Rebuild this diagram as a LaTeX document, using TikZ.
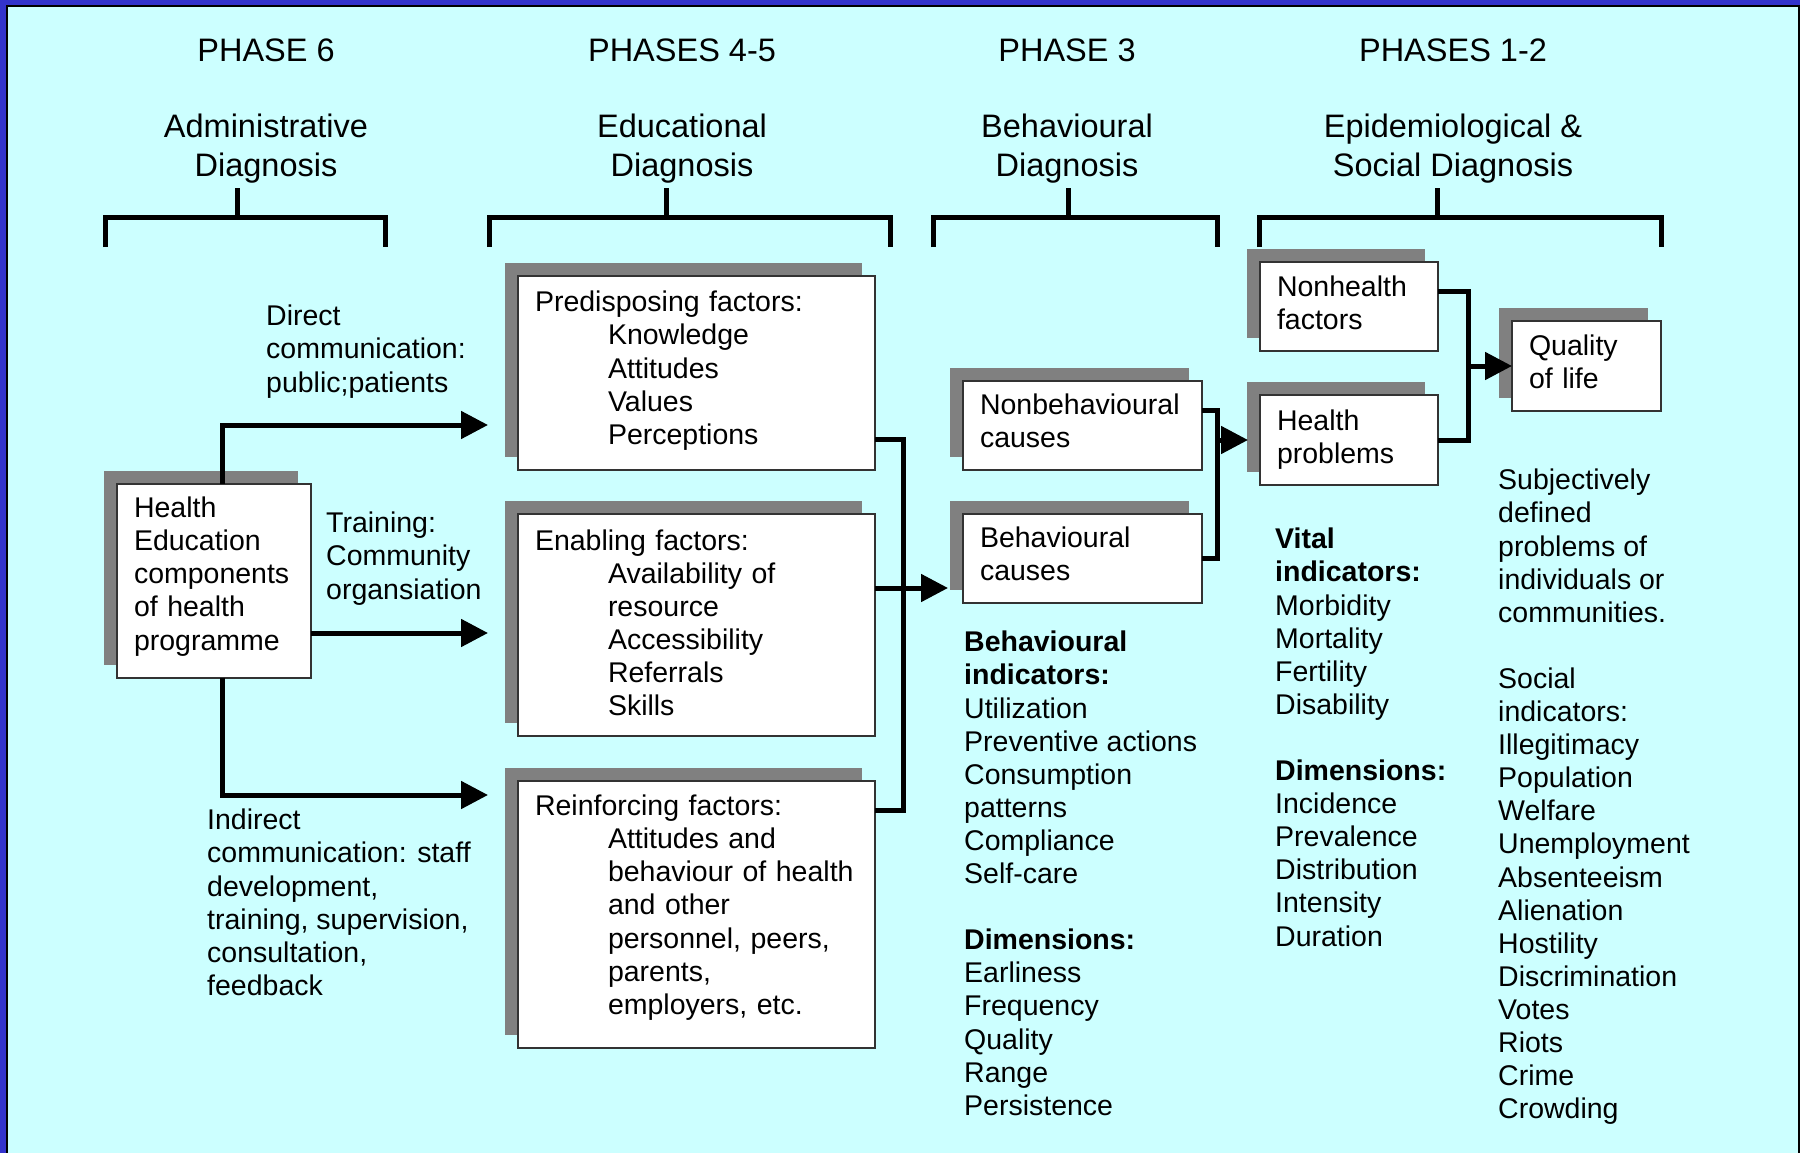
\documentclass[tikz,border=0pt]{standalone}
\usepackage{fontspec}
\setmainfont{Liberation Sans}
\usetikzlibrary{arrows.meta}
\usetikzlibrary{shadows}
\definecolor{panel}{HTML}{CCFFFF}
\definecolor{frame}{HTML}{3333CC}
\newcommand{\factind}{\hspace*{73pt}}
\newcommand{\boxfoot}[1]{\rule[-#1]{0pt}{#1}}
\tikzstyle{phase}=[inner sep=0pt, anchor=north, align=center, font=\fontsize{32.5}{38.8}\selectfont]
\tikzstyle{note}=[inner sep=0pt, anchor=north west, align=left, font=\fontsize{28.5}{33.1}\selectfont]
\tikzstyle{factor}=[draw=black!80, line width=1.3pt, fill=white, anchor=north west,
  inner xsep=17pt, inner ysep=0pt, outer sep=0pt, align=left,
  font=\fontsize{28.5}{33.1}\selectfont,
  drop shadow={shadow xshift=-13pt, shadow yshift=13pt, fill=gray, opacity=1}]
\tikzstyle{bracket}=[line width=5pt]
\tikzstyle{bus}=[line width=5pt]
\tikzstyle{flow}=[line width=5pt, -{Triangle[length=27pt, width=27pt]}]

\begin{document}
\begin{tikzpicture}[x=1pt, y=-1pt]
          \useasboundingbox (0,0) rectangle (1800,1153);
          \fill[frame] (0,0) rectangle (1800,1153);
          \fill[panel] (7,6) rectangle (1799,1153);
          \draw[line width=2pt] (7,1160) -- (7,6) -- (1799,6) -- (1799,1160);

          \node[phase] (ph6) at (266,39) {PHASE 6};
          \node[phase] (ph45) at (682,39) {PHASES 4-5};
          \node[phase] (ph3) at (1067,39) {PHASE 3};
          \node[phase] (ph12) at (1453,39) {PHASES 1-2};
          \node[phase] (adm) at (266,114) {Administrative\\Diagnosis};
          \node[phase] (edu) at (682,114) {Educational\\Diagnosis};
          \node[phase] (beh) at (1067,114) {Behavioural\\Diagnosis};
          \node[phase] (epi) at (1453,114) {Epidemiological \&\\Social Diagnosis};

          \draw[bracket] (105,247) |- (385,217) -- (385,247) (237,217) -- (237,188);
          \draw[bracket] (489,247) |- (890,217) -- (890,247) (666,217) -- (666,188);
          \draw[bracket] (933,247) |- (1217,217) -- (1217,247) (1068,217) -- (1068,188);
          \draw[bracket] (1259,247) |- (1661,217) -- (1661,247) (1437,217) -- (1437,188);

          \node[factor, text width=160pt, minimum height=194pt] (hed) at (117,484)
            {Health\\Education\\components\\of health\\programme\boxfoot{15pt}};
          \node[factor, text width=323pt, minimum height=194pt] (pre) at (518,276)
            {Predisposing factors:\\\factind Knowledge\\\factind Attitudes\\\factind Values\\\factind Perceptions\boxfoot{10.6pt}};
          \node[factor, text width=323pt, minimum height=222pt] (ena) at (518,514)
            {Enabling factors:\\\factind Availability of\\\factind resource\\\factind Accessibility\\\factind Referrals\\\factind Skills\boxfoot{4.6pt}};
          \node[factor, text width=323pt, minimum height=267pt] (rei) at (518,781)
            {Reinforcing factors:\\\factind Attitudes and\\\factind behaviour of health\\\factind and other\\\factind personnel, peers,\\\factind parents,\\\factind employers, etc.\boxfoot{19.8pt}};
          \node[factor, text width=205pt, minimum height=89pt] (nbc) at (963,381) {Nonbehavioural\\causes\boxfoot{9.2pt}};
          \node[factor, text width=205pt, minimum height=89pt] (bc) at (963,514) {Behavioural\\causes\boxfoot{9.2pt}};
          \node[factor, text width=144pt, minimum height=89pt] (nhf) at (1260,262) {Nonhealth\\factors\boxfoot{6.9pt}};
          \node[factor, text width=144pt, minimum height=90pt] (hp) at (1260,395) {Health\\problems};
          \node[factor, text width=115pt, minimum height=90pt] (qol) at (1512,321) {Quality\\of life\boxfoot{9.2pt}};

          \node[note] (direct) at (266,305) {Direct\\communication:\\public;patients};
          \node[note] (train) at (326,512) {Training:\\Community\\organsiation};
          \node[note] (indirect) at (207,809)
            {Indirect\\communication: staff\\development,\\training, supervision,\\consultation,\\feedback};
          \node[note] (behind) at (964,631)
            {\textbf{Behavioural}\\\textbf{indicators:}\\Utilization\\Preventive actions\\Consumption\\patterns\\Compliance\\Self-care\\[33.1pt]\textbf{Dimensions:}\\Earliness\\Frequency\\Quality\\Range\\Persistence};
          \node[note] (vital) at (1275,528)
            {\textbf{Vital}\\\textbf{indicators:}\\Morbidity\\Mortality\\Fertility\\Disability\\[33.1pt]\textbf{Dimensions:}\\Incidence\\Prevalence\\Distribution\\Intensity\\Duration};
          \node[note] (social) at (1498,469)
            {Subjectively\\defined\\problems of\\individuals or\\communities.\\[33.1pt]Social\\indicators:\\Illegitimacy\\Population\\Welfare\\Unemployment\\Absenteeism\\Alienation\\Hostility\\Discrimination\\Votes\\Riots\\Crime\\Crowding};

          \draw[flow] ([xshift=8pt]hed.north) |- ++(266,-59);
          \draw[flow] ([yshift=-52pt]hed.east) -- ++(177,0);
          \draw[flow] ([xshift=8pt]hed.south) |- ++(266,117);

          \coordinate (bus45) at (903,588);
          \draw[bus] ([yshift=-66pt]pre.east) -| (bus45) |- ([yshift=104.5pt]rei.east);
          \draw[flow] ([yshift=37pt]ena.east) -- ++(73,0);

          \coordinate (bus3) at (1217,440);
          \draw[bus] ([yshift=15.5pt]nbc.east) -| (bus3) |- (bc.east);
          \draw[flow] (bus3) -- ([xshift=-12pt]hp.west);

          \coordinate (bus12) at (1468,366);
          \draw[bus] ([yshift=15.5pt]nhf.east) -| (bus12) |- (hp.east);
          \draw[flow] (bus12) -- (qol.west);
        \end{tikzpicture}
\end{document}
